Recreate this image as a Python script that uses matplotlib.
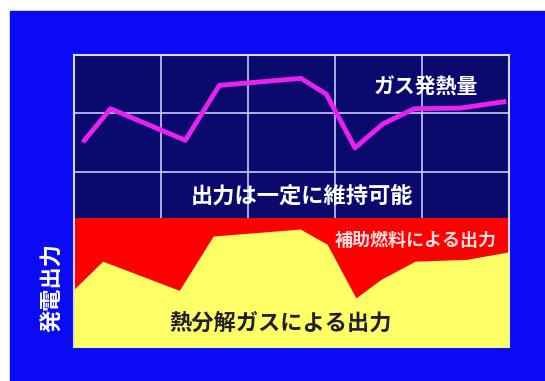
import matplotlib
matplotlib.use("Agg")
import matplotlib.pyplot as plt
from matplotlib.patches import Rectangle

plt.rcParams['font.family'] = ['Noto Sans CJK JP', 'DejaVu Sans']

# gas calorific value (upper line)
gas_x = [0.12, 0.42, 1.28, 1.67, 2.61, 2.90, 3.23, 3.55, 3.91, 4.44, 4.94]
gas_y = [3.54, 4.08, 3.54, 4.48, 4.60, 4.33, 3.41, 3.82, 4.08, 4.09, 4.20]

# output from pyrolysis gas (yellow area)
pyro_x = [0.0, 0.33, 1.21, 1.60, 2.60, 2.91, 3.24, 3.53, 3.92, 4.51, 5.0]
pyro_y = [0.99, 1.47, 0.97, 1.90, 2.02, 1.76, 0.84, 1.16, 1.47, 1.50, 1.63]

# constant total output (top of red area)
total_output = 2.21

fig = plt.figure(figsize=(5.45, 3.81), dpi=100, facecolor='white')
fig.patches.append(Rectangle((10 / 545, 0), 1, (381 - 11) / 381,
                             transform=fig.transFigure, color='#0a0af5', zorder=-1))

ax = fig.add_axes([74 / 545, (381 - 347) / 381, (509 - 74) / 545, (347 - 55) / 381])
ax.set_facecolor('#0a0a6e')
ax.set_xlim(0, 5)
ax.set_ylim(0, 5)
ax.set_xticks([1, 2, 3, 4])
ax.set_yticks([1, 2, 3, 4])
ax.tick_params(length=0, labelbottom=False, labelleft=False)
ax.grid(True, color='#c8c8ff', linewidth=1.2, zorder=0)
ax.set_axisbelow(True)
for s in ax.spines.values():
    s.set_color('#d8d8f0')
    s.set_linewidth(1.5)

ax.fill_between([0, 5], 0, total_output, color='#ff0000', linewidth=0, zorder=2)
ax.fill_between(pyro_x, 0, pyro_y, color='#ffff66', linewidth=0, zorder=3)
ax.plot(gas_x, gas_y, color='#e820f0', linewidth=3.5, zorder=4)

ax.text(4.04, 4.45, 'ガス発熱量', color='white', fontsize=15, fontweight='bold',
        ha='center', va='center', zorder=5)
ax.text(2.62, 2.57, '出力は一定に維持可能', color='white', fontsize=16, fontweight='bold',
        ha='center', va='center', zorder=5)
ax.text(3.93, 1.83, '補助燃料による出力', color='#ffe0e0', fontsize=13, fontweight='bold',
        ha='center', va='center', zorder=5)
ax.text(2.37, 0.41, '熱分解ガスによる出力', color='#202030', fontsize=16, fontweight='bold',
        ha='center', va='center', zorder=5)

fig.text(53 / 545, 1 - 287 / 381, '発電出力', color='white', fontsize=16, fontweight='bold',
         rotation=90, ha='center', va='center')

fig.savefig('out.png', dpi=100, facecolor=fig.get_facecolor())
